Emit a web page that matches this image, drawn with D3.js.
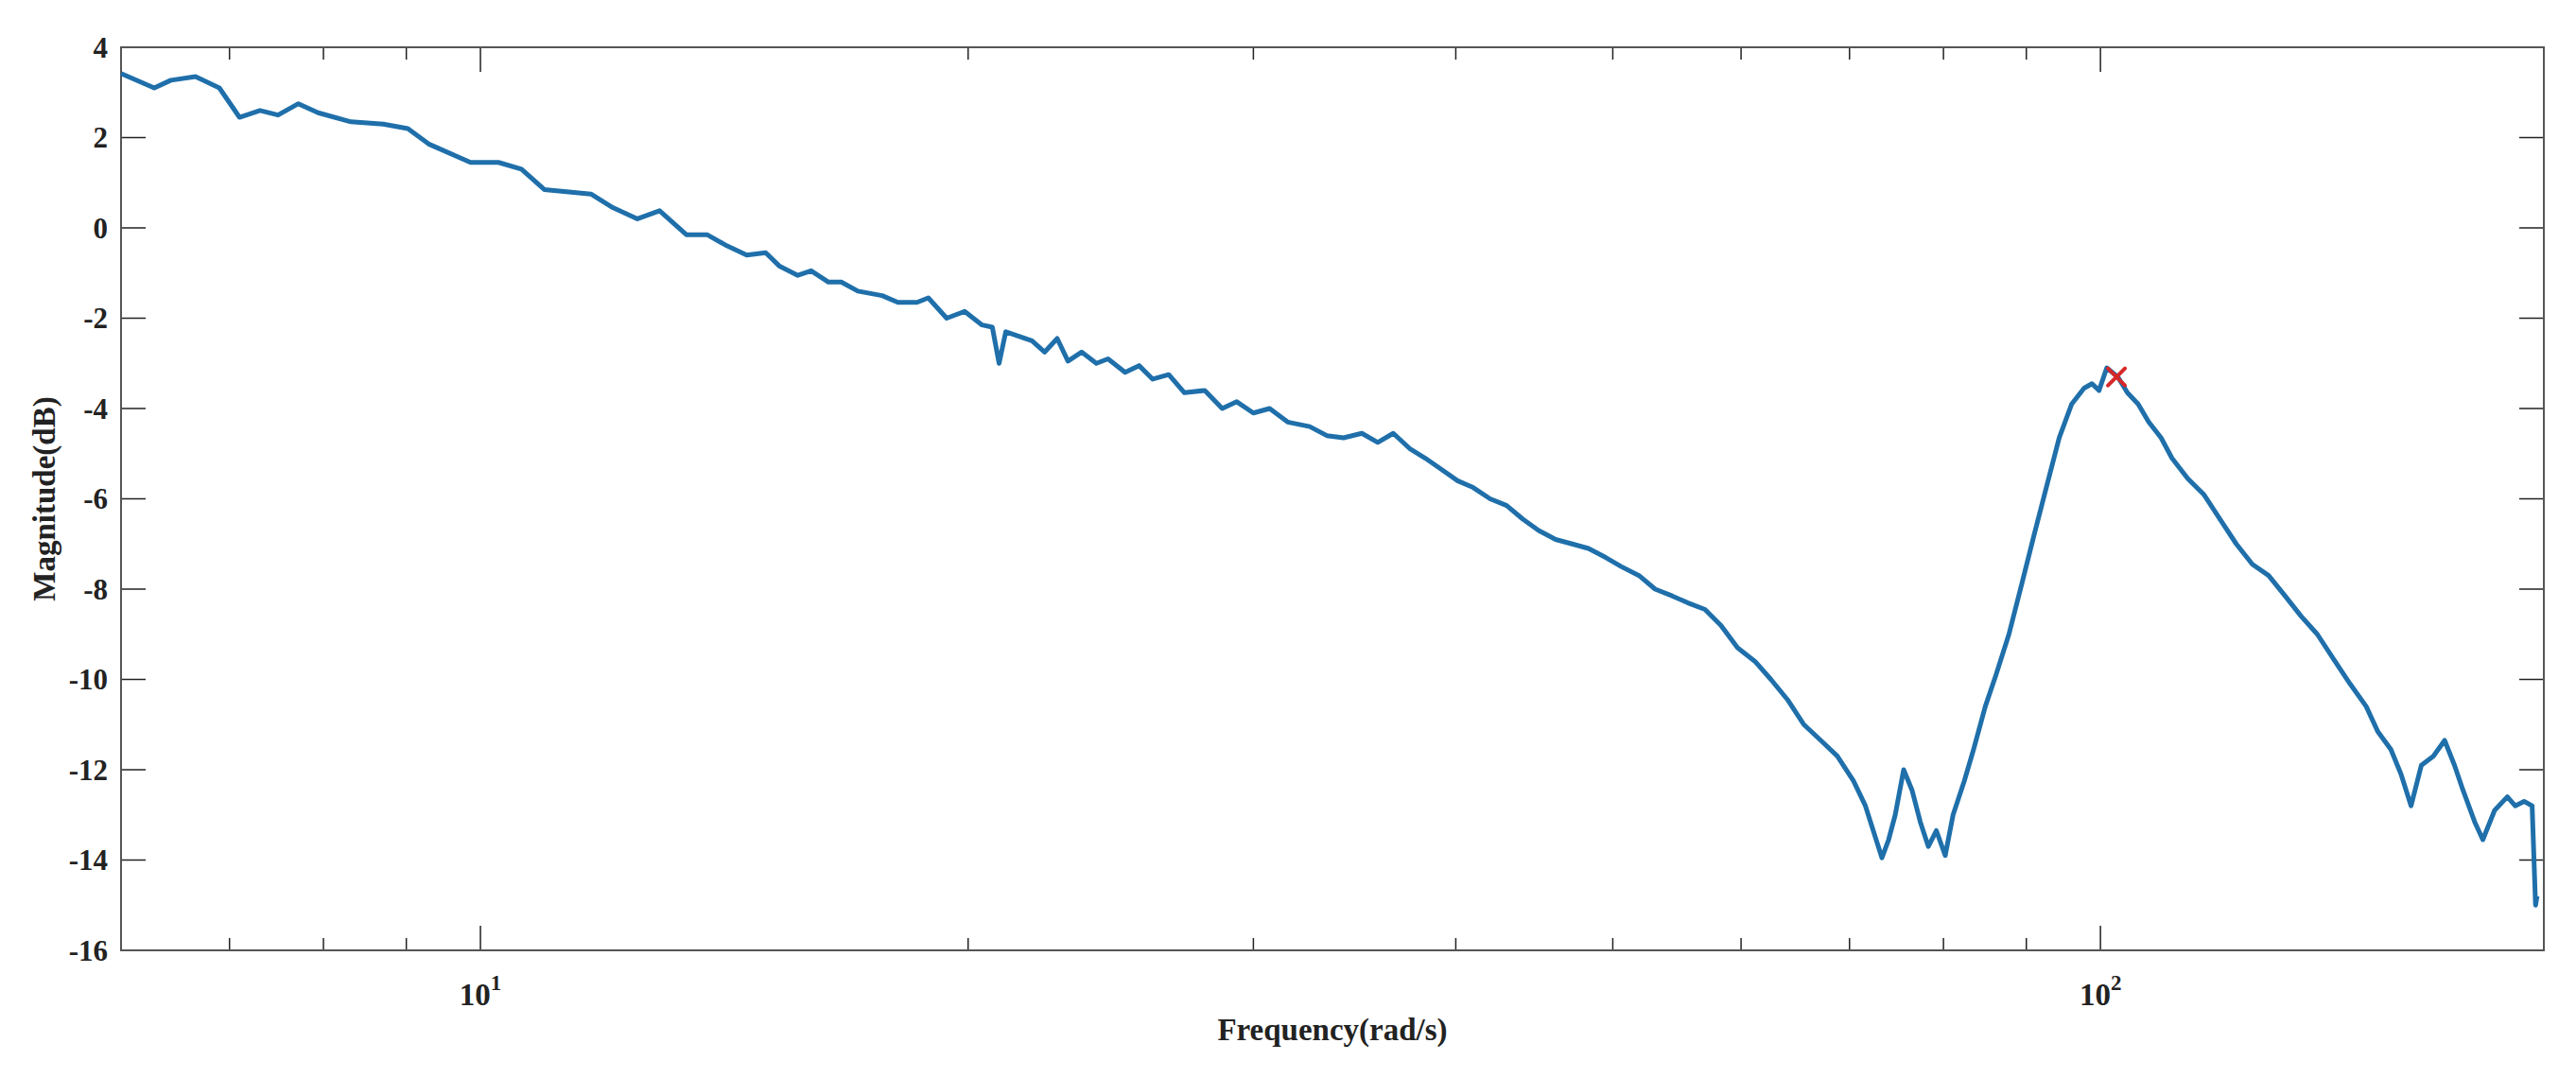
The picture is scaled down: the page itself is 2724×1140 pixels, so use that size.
<!DOCTYPE html>
<html>
<head>
<meta charset="utf-8">
<script src="https://cdn.jsdelivr.net/npm/d3@7"></script>
<style>
  body { margin: 0; background: #fff; }
  text { font-family: "Liberation Serif", "Times New Roman", serif; font-weight: bold; fill: #222; }
</style>
</head>
<body>
<div id="chart"></div>
<script>
// frequency (rad/s) and magnitude (dB)
const freq = [6.0, 6.29, 6.44, 6.67, 6.9, 7.1, 7.31, 7.5, 7.72, 7.94, 8.32, 8.71, 9.02, 9.3, 9.86,
  10.26, 10.6, 10.95, 11.3, 11.7, 12.07, 12.5, 12.9, 13.4, 13.8, 14.2, 14.6, 15.0, 15.3, 15.7,
  16.0, 16.4, 16.7, 17.1, 17.7, 18.1, 18.6, 18.9, 19.4, 19.9, 20.4, 20.7, 20.9, 21.1, 21.9,
  22.3, 22.7, 23.05, 23.5, 24.0, 24.4, 25.0, 25.5, 26.0, 26.6, 27.2, 28.0, 28.7, 29.3, 30.0,
  30.7, 31.5, 32.5, 33.3, 34.1, 35.0, 35.8, 36.6, 37.5, 38.3, 39.2, 40.1, 41.0, 42.0, 43.0,
  44.0, 45.0, 46.1, 47.2, 48.3, 49.5, 50.6, 51.9, 53.1, 54.4, 55.6, 57.0, 58.3, 59.7, 61.2,
  62.6, 64.1, 65.6, 67.2, 68.8, 70.4, 71.6, 72.7, 73.3, 74.0, 74.7, 75.6, 76.5, 77.4, 78.3,
  79.2, 80.2, 81.1, 82.4, 83.5, 84.9, 86.2, 87.8, 89.4, 91.0, 92.9, 94.3, 96.0, 97.7, 98.8,
  99.8, 100.9, 102.5, 103.9, 105.5, 107.1, 109.0, 110.7, 113.2, 115.8, 118.5, 121.3, 124.1, 127.0, 130.0,
  133.0, 136.1, 139.3, 142.6, 145.9, 148.3, 151.1, 153.3, 155.5, 157.8, 160.5, 163.1, 165.4, 167.4, 170.2,
  172.2, 175.1, 178.3, 180.3, 182.6, 184.7, 185.6, 186.0];
const magnitude = [3.42, 3.1, 3.27, 3.35, 3.1, 2.45, 2.6, 2.5, 2.75, 2.55, 2.35, 2.3, 2.2, 1.85, 1.45,
  1.45, 1.3, 0.85, 0.8, 0.75, 0.45, 0.2, 0.38, -0.15, -0.15, -0.4, -0.6, -0.55, -0.85, -1.05,
  -0.95, -1.2, -1.2, -1.4, -1.5, -1.65, -1.65, -1.55, -2.0, -1.85, -2.15, -2.2, -3.0, -2.3, -2.5,
  -2.75, -2.45, -2.95, -2.75, -3.0, -2.9, -3.2, -3.05, -3.35, -3.25, -3.65, -3.6, -4.0, -3.85, -4.1,
  -4.0, -4.3, -4.4, -4.6, -4.65, -4.55, -4.75, -4.55, -4.9, -5.1, -5.35, -5.6, -5.75, -6.0, -6.15,
  -6.45, -6.7, -6.9, -7.0, -7.1, -7.3, -7.5, -7.7, -8.0, -8.15, -8.3, -8.45, -8.8, -9.3, -9.6,
  -10.0, -10.45, -11.0, -11.35, -11.7, -12.25, -12.8, -13.55, -13.95, -13.55, -13.0, -12.0, -12.45, -13.15, -13.7,
  -13.35, -13.9, -13.0, -12.25, -11.55, -10.6, -9.9, -9.0, -7.9, -6.8, -5.55, -4.65, -3.9, -3.55, -3.45,
  -3.6, -3.1, -3.3, -3.65, -3.9, -4.3, -4.65, -5.1, -5.55, -5.9, -6.45, -7.0, -7.45, -7.7, -8.15,
  -8.6, -9.0, -9.55, -10.1, -10.6, -11.15, -11.55, -12.1, -12.8, -11.9, -11.7, -11.35, -11.9, -12.45, -13.15,
  -13.55, -12.9, -12.6, -12.8, -12.7, -12.8, -15.0, -14.8];
const peak = [102.3, -3.3];
const yTicks = [4, 2, 0, -2, -4, -6, -8, -10, -12, -14, -16];
const xMajor = [10, 100];
const xMinor = [7, 8, 9, 20, 30, 40, 50, 60, 70, 80, 90];

const W = 2724, H = 1140;
const margin = { top: 50, right: 34, bottom: 135, left: 128 };
const width = W - margin.left - margin.right;
const height = H - margin.top - margin.bottom;

const svg = d3.select('#chart').append('svg').attr('width', W).attr('height', H);
const g = svg.append('g').attr('transform', `translate(${margin.left},${margin.top})`);

const x = d3.scaleLog().domain([6, 187.8]).range([0, width]);
const y = d3.scaleLinear().domain([-16, 4]).range([height, 0]);

const axisColor = '#555';
// y ticks left + right (inward)
yTicks.forEach(t => {
  g.append('line').attr('x1', 0).attr('x2', 26).attr('y1', y(t)).attr('y2', y(t)).attr('stroke', '#222').attr('stroke-width', 1.5);
  g.append('line').attr('x1', width).attr('x2', width - 26).attr('y1', y(t)).attr('y2', y(t)).attr('stroke', '#222').attr('stroke-width', 1.5);
  g.append('text').attr('x', -14).attr('y', y(t)).attr('dy', '0.35em').attr('text-anchor', 'end')
    .style('font-size', '31px').text(t);
});
// x ticks bottom + top
const xt = (v, len) => {
  g.append('line').attr('x1', x(v)).attr('x2', x(v)).attr('y1', height).attr('y2', height - len).attr('stroke', '#222').attr('stroke-width', 1.5);
  g.append('line').attr('x1', x(v)).attr('x2', x(v)).attr('y1', 0).attr('y2', len).attr('stroke', '#222').attr('stroke-width', 1.5);
};
xMinor.forEach(v => xt(v, 13));
xMajor.forEach(v => {
  xt(v, 26);
  const t = g.append('text').attr('x', x(v)).attr('y', height + 58).attr('text-anchor', 'middle').style('font-size', '33px');
  t.append('tspan').text('10');
  t.append('tspan').attr('dy', -16).style('font-size', '23px').text(Math.log10(v));
});

// box
g.append('rect').attr('width', width).attr('height', height).attr('fill', 'none')
  .attr('stroke', axisColor).attr('stroke-width', 2);

const data = freq.map((f, i) => [f, magnitude[i]]);
g.append('path').datum(data)
  .attr('fill', 'none').attr('stroke', '#1f6faa').attr('stroke-width', 5).attr('stroke-linejoin', 'round')
  .attr('d', d3.line().x(d => x(d[0])).y(d => y(d[1])));

// peak marker
const px = x(peak[0]), py = y(peak[1]), s = 9;
g.append('path').attr('d', `M${px - s},${py - s}L${px + s},${py + s}M${px - s},${py + s}L${px + s},${py - s}`)
  .attr('stroke', '#d62728').attr('stroke-width', 4).attr('stroke-linecap', 'round');

svg.append('text').attr('x', margin.left + width / 2).attr('y', 1100).attr('text-anchor', 'middle')
  .style('font-size', '33px').text('Frequency(rad/s)');
svg.append('text').attr('transform', `translate(58,${margin.top + height / 2}) rotate(-90)`).attr('text-anchor', 'middle')
  .style('font-size', '33px').text('Magnitude(dB)');
</script>
</body>
</html>
